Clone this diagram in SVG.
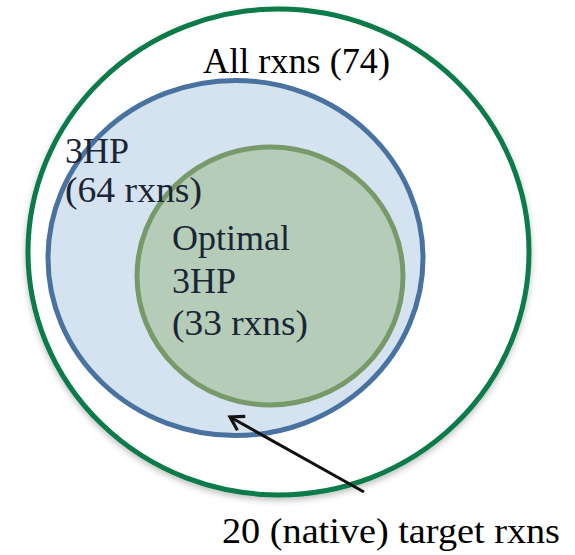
<svg xmlns="http://www.w3.org/2000/svg" width="575" height="555" viewBox="0 0 575 555">
  <style>
    .lbl { font-family: "Liberation Serif", "DejaVu Serif", serif; font-size: 36px; }
    .dark { fill: #000000; }
    .inner { fill: #1a2535; }
  </style>
  <defs>
    <filter id="shadow" x="-10%" y="-10%" width="120%" height="125%">
      <feDropShadow dx="0" dy="3" stdDeviation="3" flood-color="#000000" flood-opacity="0.25"/>
    </filter>
    <marker id="openArrow" markerUnits="userSpaceOnUse" markerWidth="24" markerHeight="24" refX="21" refY="12" orient="auto" viewBox="0 0 24 24">
      <path d="M8,4 L21,12 L8,20" fill="none" stroke="#111111" stroke-width="3.2" stroke-linejoin="miter"/>
    </marker>
  </defs>
  <rect x="0" y="0" width="575" height="555" fill="#ffffff"/>

  <g id="all">
    <ellipse cx="278.5" cy="252" rx="250.5" ry="243" fill="#ffffff" stroke="#087a48" stroke-width="5" filter="url(#shadow)"/>
  </g>

  <g id="hp3">
    <ellipse cx="235.5" cy="258" rx="187.5" ry="177.5" fill="#d5e2f0" stroke="#4a72a0" stroke-width="5"/>
  </g>

  <g id="optimal">
    <ellipse cx="270" cy="276" rx="133" ry="129" fill="#b5cdb8" stroke="#789a6a" stroke-width="5"/>
  </g>

  <g id="all-label">
    <text class="lbl dark" x="203" y="73" textLength="187" lengthAdjust="spacingAndGlyphs">All rxns (74)</text>
  </g>

  <g id="hp3-label">
    <text class="lbl inner" x="65" y="163">3HP</text>
    <text class="lbl inner" x="65" y="202" textLength="137" lengthAdjust="spacingAndGlyphs">(64 rxns)</text>
  </g>

  <g id="optimal-label">
    <text class="lbl inner" x="172" y="250">Optimal</text>
    <text class="lbl inner" x="172" y="293">3HP</text>
    <text class="lbl inner" x="172" y="335" textLength="136" lengthAdjust="spacingAndGlyphs">(33 rxns)</text>
  </g>

  <g id="connectors">
    <line x1="364" y1="492" x2="230" y2="417" stroke="#111111" stroke-width="3" marker-end="url(#openArrow)"/>
  </g>

  <g id="target">
    <text class="lbl dark" x="222" y="543" textLength="338" lengthAdjust="spacingAndGlyphs">20 (native) target rxns</text>
  </g>
</svg>
